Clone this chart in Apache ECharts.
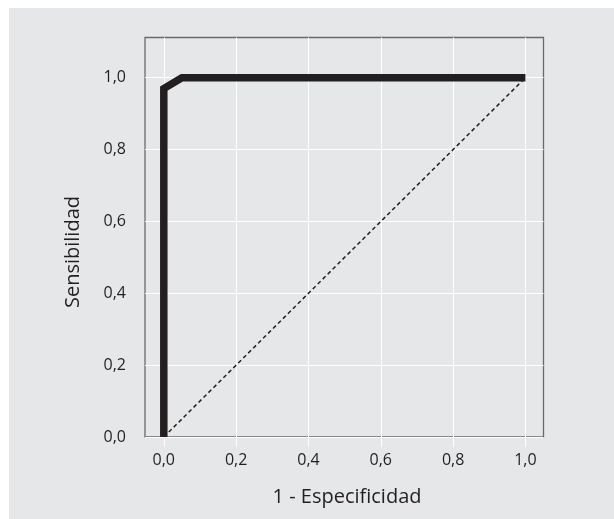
<!DOCTYPE html>
<html>
<head>
<meta charset="utf-8">
<script src="https://cdn.jsdelivr.net/npm/echarts@6/dist/echarts.min.js"></script>
<style>html,body{margin:0;padding:0;background:#fff}#c{width:614px;height:519px}</style>
</head>
<body>
<div id="c"></div>
<script>
// Data
const rocCurve = [[0, 0], [0, 0.97], [0.05, 1.0], [1.0, 1.0]];
const referenceLine = [[0, 0], [1, 1]];
const xTicks = [0, 0.2, 0.4, 0.6, 0.8, 1.0];
const yTicks = [0, 0.2, 0.4, 0.6, 0.8, 1.0];
const xTitle = '1 - Especificidad';
const yTitle = 'Sensibilidad';

const FONT = '"Open Sans", "DejaVu Sans", sans-serif';
const fmt = v => v.toFixed(1).replace('.', ',');

const chart = echarts.init(document.getElementById('c'), null, {renderer: 'canvas'});
chart.setOption({
  backgroundColor: '#ffffff',
  animation: false,
  graphic: [
    {type: 'rect', z: -100, silent: true, shape: {x: 9, y: 8, width: 620, height: 520}, style: {fill: '#e6e7e8'}},
    {type: 'text', x: 347, y: 497, silent: true,
      style: {text: xTitle, fontSize: 20, fontFamily: FONT, fill: '#231f20', align: 'center', verticalAlign: 'middle'}},
    {type: 'text', x: 73, y: 252, rotation: Math.PI / 2, silent: true,
      style: {text: yTitle, fontSize: 20, fontFamily: FONT, fill: '#231f20', align: 'center', verticalAlign: 'middle'}}
  ],
  grid: {left: 145, top: 37.5, right: 70.5, bottom: 82, show: true, borderColor: '#6a6a6a', borderWidth: 1.3, backgroundColor: 'transparent'},
  xAxis: {
    type: 'value', min: -0.052, max: 1.05,
    axisLine: {show: false},
    axisTick: {show: true, customValues: xTicks, length: 10, lineStyle: {color: '#ffffff', width: 1}},
    axisLabel: {customValues: xTicks, formatter: fmt, fontSize: 16, fontFamily: FONT, color: '#231f20', margin: 15},
    splitLine: {show: false}
  },
  yAxis: {
    type: 'value', min: 0, max: 1.112, interval: 0.2,
    axisLine: {show: false},
    axisTick: {show: true, customValues: yTicks, length: 9, lineStyle: {color: '#ffffff', width: 1}},
    axisLabel: {customValues: yTicks, formatter: fmt, fontSize: 16, fontFamily: FONT, color: '#231f20', margin: 19},
    splitLine: {show: true, lineStyle: {color: '#ffffff', width: 1}}
  },
  series: [
    {
      type: 'line', data: referenceLine, symbol: 'none', z: 3,
      lineStyle: {color: '#231f20', width: 1.5, type: [4, 3]},
      markLine: {
        silent: true, symbol: 'none', label: {show: false}, z: 1,
        lineStyle: {color: '#ffffff', width: 1, type: 'solid'},
        data: xTicks.map(v => ({xAxis: v}))
      }
    },
    {
      type: 'line', data: rocCurve, symbol: 'none', z: 4,
      lineStyle: {color: '#231f20', width: 7.5, cap: 'butt', join: 'miter'}
    }
  ]
});
</script>
</body>
</html>
